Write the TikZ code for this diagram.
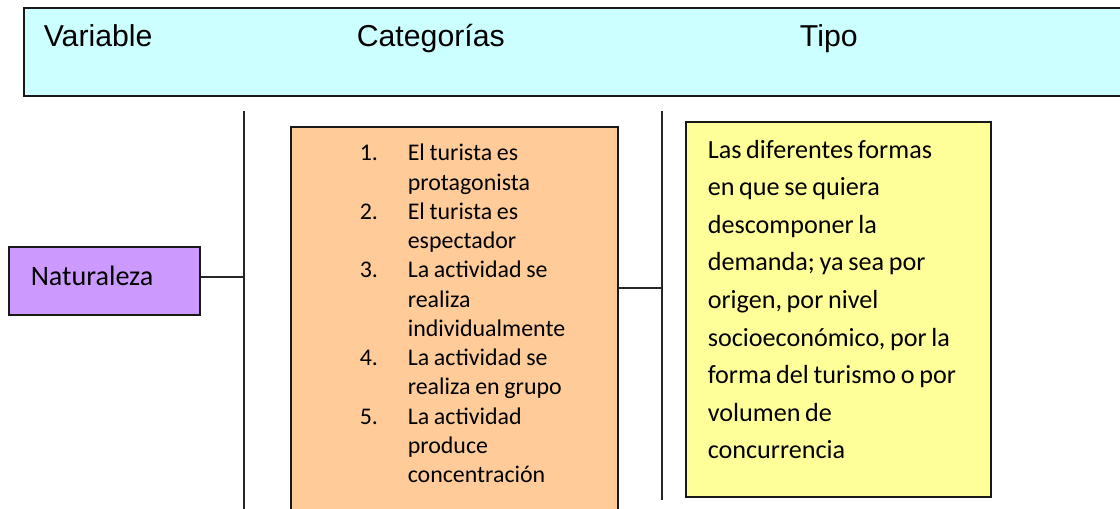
\documentclass[tikz,border=0pt]{standalone}
\usepackage{fontspec}
\setmainfont{Carlito}
\newfontfamily\headfont{Liberation Sans}
\usepackage{array}
\definecolor{headcyan}{HTML}{CCFFFF}
\definecolor{natpurple}{HTML}{CC99FF}
\definecolor{catorange}{HTML}{FFCC99}
\definecolor{tipoyellow}{HTML}{FFFF99}
\tikzset{
  box/.style={draw=black!90, line width=1.1pt, inner sep=0pt, anchor=north west},
  link/.style={draw=black!85, line width=0.9pt}
}

\begin{document}
\begin{tikzpicture}[x=0.025cm,y=-0.025cm]
    \useasboundingbox (0,0) rectangle (1120,508);
    \clip (0,0) rectangle (1120,508);

    % Header
    \node[box, fill=headcyan, text width=27.55cm, text height=0.975cm, text depth=1.225cm] (head) at (23,7)
      {\headfont\fontsize{21.5}{25}\selectfont
       \begin{tabular}[t]{@{\hspace{0.5cm}}p{7.825cm}@{}p{11.075cm}@{}l@{}}Variable & Categorías & Tipo\end{tabular}};

    % Variable
    \node[box, fill=natpurple, text width=4.775cm, text height=0.96cm, text depth=0.74cm] (nat) at (8,246)
      {\fontsize{20}{24}\selectfont\hspace*{0.55cm}Naturaleza};

    % Categories
    \node[box, fill=catorange, text width=8.175cm, text height=0.85cm, text depth=8.875cm] (cat) at (290,126)
      {\fontsize{17}{20.8}\selectfont
       \begin{tabular}[t]{@{\hspace{1.725cm}}p{1.2cm}@{}l@{}}
       1. & El turista es\\
          & protagonista\\
       2. & El turista es\\
          & espectador\\
       3. & La actividad se\\
          & realiza\\
          & individualmente\\
       4. & La actividad se\\
          & realiza en grupo\\
       5. & La actividad\\
          & produce\\
          & concentración
       \end{tabular}};

    % Type
    \node[box, fill=tipoyellow, text width=7.625cm, text height=0.9125cm, text depth=8.4625cm] (tipo) at (685,121)
      {\fontsize{18.6}{26.7}\selectfont
       \begin{tabular}[t]{@{\hspace{0.55cm}}l@{}}
       Las diferentes formas\\
       en que se quiera\\
       descomponer la\\
       demanda; ya sea por\\
       origen, por nivel\\
       socioeconómico, por la\\
       forma del turismo o por\\
       volumen de\\
       concurrencia
       \end{tabular}};

    % Vertical bars
    \coordinate (barA top) at (244,111);
    \coordinate (barA bot) at (244,515);
    \coordinate (barB top) at (662,111);
    \coordinate (barB bot) at (662,500);
    \draw[link] (barA top) -- (barA bot);
    \draw[link] (barB top) -- (barB bot);

    % Connectors
    \coordinate (joinA) at (244,277);
    \coordinate (joinB) at (662,288);
    \draw[link] (nat.east |- joinA) -- (joinA);
    \draw[link] (cat.east |- joinB) -- (joinB);
\end{tikzpicture}
\end{document}
